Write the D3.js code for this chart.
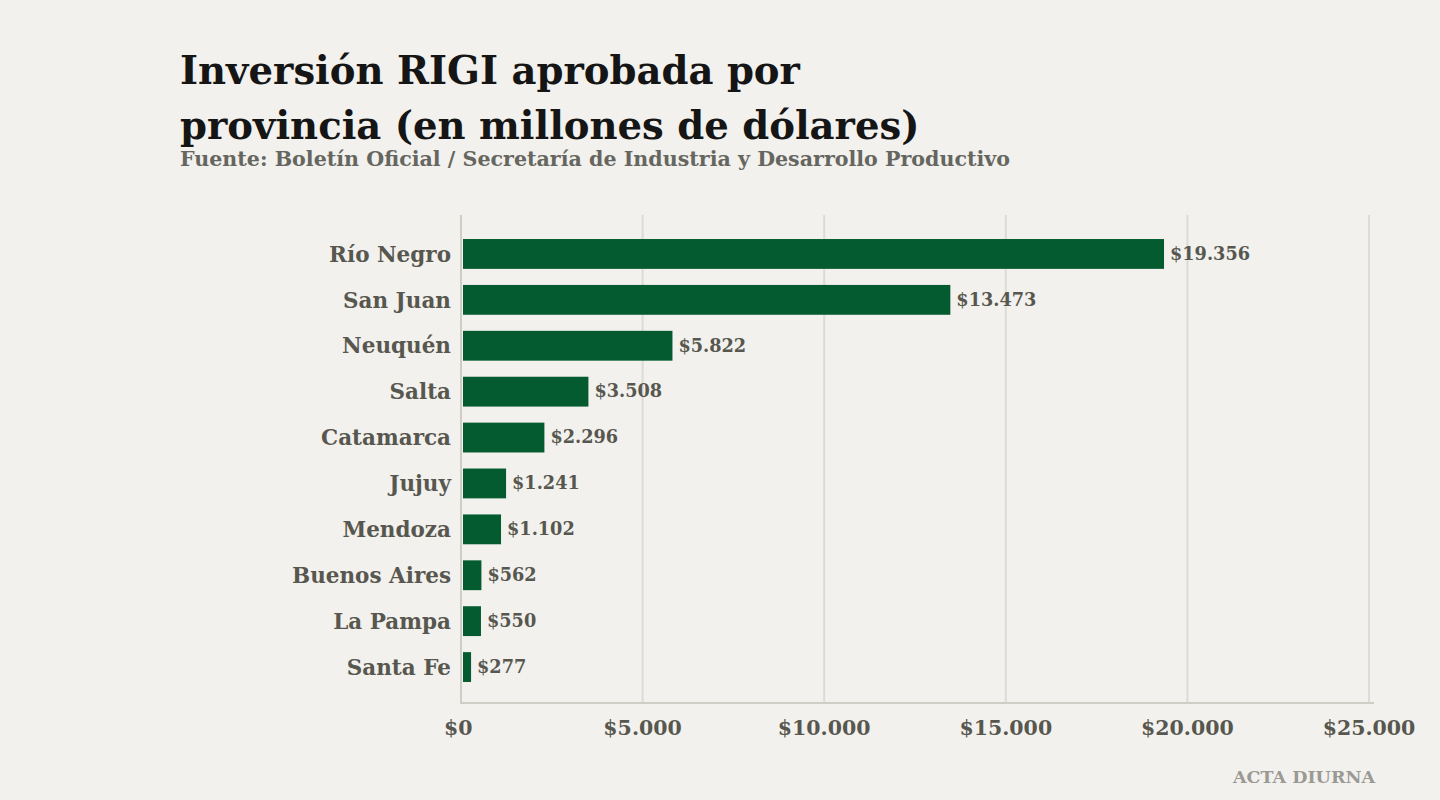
<!DOCTYPE html>
<html><head><meta charset="utf-8">
<script src="https://cdn.jsdelivr.net/npm/d3@7"></script>
<style>
html,body{margin:0;padding:0;background:#f2f1ed;}
svg{display:block;}
</style></head>
<body>
<svg id="c" width="1440" height="800"></svg>
<script>
const provinces = ["Río Negro","San Juan","Neuquén","Salta","Catamarca","Jujuy","Mendoza","Buenos Aires","La Pampa","Santa Fe"];
const values = [19356,13473,5822,3508,2296,1241,1102,562,550,277];
const valueLabels = ["$19.356","$13.473","$5.822","$3.508","$2.296","$1.241","$1.102","$562","$550","$277"];
const ticks = [0,5000,10000,15000,20000,25000];
const tickLabels = ["$0","$5.000","$10.000","$15.000","$20.000","$25.000"];

const FONT = "'DejaVu Serif', serif";
const svg = d3.select("#c");
svg.append("rect").attr("width",1440).attr("height",800).attr("fill","#f2f1ed");

const x = d3.scaleLinear().domain([0,25000]).range([461,1369]);
const y = d3.scaleBand().domain(provinces).range([231,690]).paddingInner(0.35).paddingOuter(0.175);

// grid
svg.append("g").selectAll("line").data(ticks.slice(1)).join("line")
  .attr("x1",d=>x(d)).attr("x2",d=>x(d)).attr("y1",215).attr("y2",703)
  .attr("stroke","#dcdbd5").attr("stroke-width",2);
// axes lines
svg.append("line").attr("x1",461).attr("x2",461).attr("y1",215).attr("y2",703).attr("stroke","#cfcdc6").attr("stroke-width",2);
svg.append("line").attr("x1",460).attr("x2",1374).attr("y1",703).attr("y2",703).attr("stroke","#cfcdc6").attr("stroke-width",2);

// bars
svg.append("g").selectAll("rect").data(values).join("rect")
  .attr("x",x(0)+2).attr("y",(d,i)=>y(provinces[i]))
  .attr("width",d=>x(d)-x(0)-2).attr("height",y.bandwidth())
  .attr("fill","#035b2f");

// category labels
svg.append("g").selectAll("text").data(provinces).join("text")
  .attr("x",451).attr("y",d=>y(d)+y.bandwidth()/2).attr("dy","0.36em")
  .attr("text-anchor","end").attr("font-family",FONT).attr("font-weight","bold")
  .attr("font-size",21.5).attr("fill","#57574f").text(d=>d);

// value labels
svg.append("g").selectAll("text").data(values).join("text")
  .attr("x",d=>x(d)+6).attr("y",(d,i)=>y(provinces[i])+y.bandwidth()/2).attr("dy","0.33em")
  .attr("font-family",FONT).attr("font-weight","bold")
  .attr("font-size",17.7).attr("fill","#57574f").text((d,i)=>valueLabels[i]);

// tick labels
svg.append("g").selectAll("text").data(ticks).join("text")
  .attr("x",d=>x(d)).attr("y",735)
  .attr("text-anchor",(d,i)=>i===0?"start":"middle").attr("dx",(d,i)=>i===0?-17:0)
  .attr("font-family",FONT).attr("font-weight","bold")
  .attr("font-size",20.5).attr("fill","#57574f").text((d,i)=>tickLabels[i]);

// title
const t = svg.append("text").attr("font-family",FONT).attr("font-weight","bold").attr("font-size",38.6).attr("fill","#151515");
t.append("tspan").attr("x",180).attr("y",84).text("Inversión RIGI aprobada por");
t.append("tspan").attr("x",180).attr("y",139).text("provincia (en millones de dólares)");
svg.append("text").attr("x",180).attr("y",166).attr("font-family",FONT).attr("font-weight","bold")
  .attr("font-size",20.6).attr("fill","#666660").text("Fuente: Boletín Oficial / Secretaría de Industria y Desarrollo Productivo");
svg.append("text").attr("x",1375).attr("y",783).attr("text-anchor","end").attr("font-family",FONT).attr("font-weight","bold")
  .attr("font-size",17.5).attr("fill","#9a9994").text("ACTA DIURNA");
</script>
</body></html>
